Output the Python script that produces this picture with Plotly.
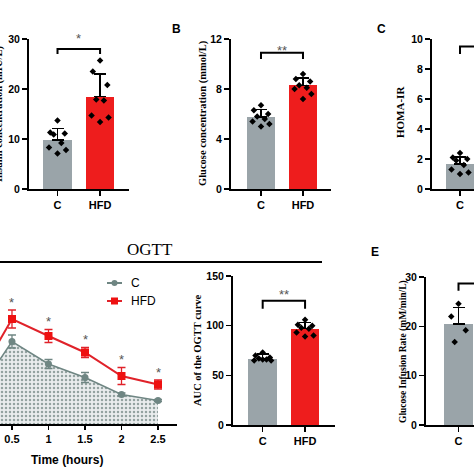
import plotly.graph_objects as go

W = H = 474
GRAY = "#9aa4a9"
RED = "#ee1d1d"
LINE_GRAY = "#6f8683"
STAR = "#555555"

groups = ["C", "HFD"]

# Panel A: insulin
a_mean = [9.8, 18.5]
a_sd = [2.3, 4.5]
a_pts = [[13.7, 11.3, 11.1, 10.9, 9.2, 8.3, 7.8, 7.1],
         [25.7, 23.5, 20.8, 17.9, 17.7, 14.7, 14.3, 13.4]]
# Panel B: glucose
b_mean = [5.75, 8.3]
b_sd = [0.6, 0.6]
b_pts = [[6.7, 6.3, 6.0, 5.8, 5.6, 5.4, 5.2, 5.0],
         [9.2, 8.8, 8.6, 8.3, 8.1, 8.0, 7.6, 7.2]]
# Panel C: HOMA-IR (only control visible)
c_mean = [1.68]
c_sd = [0.45]
c_pts = [[2.4, 2.1, 2.0, 1.9, 1.6, 1.3, 1.1, 1.0]]
# Panel D: OGTT
time = [0, 0.5, 1, 1.5, 2, 2.5]
ogtt_c = [5.6, 16.5, 12.0, 9.3, 5.9, 4.7]
ogtt_c_err = [0.4, 1.3, 0.9, 1.0, 0.3, 0.2]
ogtt_h = [8.4, 21.0, 17.6, 14.3, 9.6, 7.9]
ogtt_h_err = [0.6, 1.8, 1.3, 1.0, 1.7, 0.9]
# AUC
auc_mean = [66.5, 97]
auc_sd = [5, 6]
auc_pts = [[73, 70, 68, 67, 66, 65, 65, 66],
           [106, 101, 100, 98, 97, 93, 90, 89]]
# Panel E: GIR (only control visible)
e_mean = [20.5]
e_sd = [3.3]
e_pts = [[24.6, 22.0, 19.2, 16.8]]


def px(x):
    return x / W


def py(y):
    return 1 - y / H


fig = go.Figure()
annotations = []
shapes = []

SPREAD = [0.0, -0.17, 0.17, -0.09, 0.09, -0.2, 0.2, 0.0]


def bar_panel(ax, means, sds, pts, xr, xdom, ydom, yr, ytick, bracket, stars):
    xa = "x" + ("" if ax == 1 else str(ax))
    ya = "y" + ("" if ax == 1 else str(ax))
    n = len(means)
    fig.add_trace(go.Bar(
        x=list(range(n)), y=means, width=0.67,
        marker=dict(color=[GRAY, RED][:n], line=dict(width=0)),
        error_y=dict(type="data", symmetric=False, array=sds, arrayminus=[0] * n,
                     color="black", thickness=1.5, width=6),
        xaxis=xa, yaxis=ya, showlegend=False, hoverinfo="skip"))
    for i, p in enumerate(pts):
        xs = [i + SPREAD[k % len(SPREAD)] for k in range(len(p))]
        fig.add_trace(go.Scatter(
            x=xs, y=p, mode="markers",
            marker=dict(symbol="diamond", size=5, color="black"),
            xaxis=xa, yaxis=ya, showlegend=False, cliponaxis=False, hoverinfo="skip"))
    top, leg = bracket
    fig.add_trace(go.Scatter(
        x=[0, 0, 1, 1], y=[leg, top, top, leg], mode="lines",
        line=dict(color="black", width=2), xaxis=xa, yaxis=ya,
        showlegend=False, hoverinfo="skip"))
    if stars:
        # anchor at the bracket (inside range) and offset the text upward in pixels
        annotations.append(dict(
            x=0.5, y=top, xref=xa, yref=ya, text=stars[0], showarrow=True,
            arrowcolor="rgba(0,0,0,0)", arrowwidth=0.1, ax=0, ay=stars[1],
            font=dict(family="Liberation Sans", size=13, color=STAR)))
    lay = {}
    xk = "xaxis" + ("" if ax == 1 else str(ax))
    yk = "yaxis" + ("" if ax == 1 else str(ax))
    lay[xk] = dict(domain=[px(xdom[0]), px(xdom[1])], range=xr, anchor=ya,
                   tickvals=list(range(2)), ticktext=groups, showline=True,
                   linecolor="black", linewidth=2, ticks="outside", ticklen=5,
                   tickwidth=1.5, tickcolor="black", showgrid=False, zeroline=False,
                   automargin=False,
                   tickfont=dict(family="Liberation Sans", size=11, color="black",
                                 weight="bold"))
    lay[yk] = dict(domain=[py(ydom[1]), py(ydom[0])], range=yr, anchor=xa,
                   tickvals=ytick, showline=True, linecolor="black", linewidth=2,
                   ticks="outside", ticklen=5, tickwidth=1.5, tickcolor="black",
                   showgrid=False, zeroline=False, automargin=False,
                   tickfont=dict(family="Liberation Sans", size=10.5, color="black",
                                 weight="bold"))
    fig.update_layout(**lay)


bar_panel(1, a_mean, a_sd, a_pts, [-0.67, 1.68], (29, 129), (39, 189), [0, 30],
          [0, 10, 20, 30], (28.0, 27.0), ("*", -10.5))
bar_panel(2, b_mean, b_sd, b_pts, [-0.714, 1.667], (231, 331), (39, 189), [0, 12],
          [0, 4, 8, 12], (10.9, 10.4), ("**", -2.5))
bar_panel(3, c_mean, c_sd, c_pts, [-0.659, 0.329], (432, 474), (39, 189), [0, 10],
          [0, 2, 4, 6, 8, 10], (9.5, 9.0), None)
bar_panel(4, auc_mean, auc_sd, auc_pts, [-0.70, 1.706], (233, 335), (276, 425), [0, 150],
          [0, 50, 100, 150], (125, 117), ("**", -6))
bar_panel(5, e_mean, e_sd, e_pts, [-0.765, 0.365], (426, 474), (277, 425), [0, 30],
          [0, 10, 20, 30], (28.7, 27.2), None)

# OGTT line chart (axis 6)
fig.add_trace(go.Scatter(
    x=time, y=ogtt_c, mode="lines+markers", fill="tozeroy",
    fillcolor="rgba(0,0,0,0)",
    fillpattern=dict(shape=".", bgcolor="#eaedee", fgcolor="#94a3a1", size=4, solidity=0.3),
    line=dict(color=LINE_GRAY, width=1.5),
    marker=dict(symbol="circle", size=7, color=LINE_GRAY),
    error_y=dict(type="data", array=ogtt_c_err, color=LINE_GRAY, thickness=1.3, width=4),
    xaxis="x6", yaxis="y6", showlegend=False, hoverinfo="skip"))
fig.add_trace(go.Scatter(
    x=time, y=ogtt_h, mode="lines+markers",
    line=dict(color="#e0222a", width=2),
    marker=dict(symbol="square", size=8, color="#ee1111"),
    error_y=dict(type="data", array=ogtt_h_err, color="#e0222a", thickness=1.3, width=4),
    xaxis="x6", yaxis="y6", showlegend=False, hoverinfo="skip"))
for t, m, e in zip(time[1:], ogtt_h[1:], ogtt_h_err[1:]):
    annotations.append(dict(x=t, y=m + e + 1.6, xref="x6", yref="y6", text="*",
                            showarrow=False, xanchor="center", yanchor="middle",
                            font=dict(family="Liberation Sans", size=13, color=STAR)))
fig.update_layout(
    xaxis6=dict(domain=[0, px(177)], range=[0.336, 2.76], anchor="y6",
                tickvals=[0.5, 1, 1.5, 2, 2.5], ticktext=["0.5", "1", "1.5", "2", "2.5"],
                showline=True, linecolor="black", linewidth=1.5, ticks="outside",
                ticklen=4, tickwidth=1.5, tickcolor="black", showgrid=False,
                zeroline=False, automargin=False,
                tickfont=dict(family="Liberation Sans", size=11, color="black",
                              weight="bold")),
    yaxis6=dict(domain=[py(424), py(274)], range=[0, 30], anchor="x6",
                visible=False, showgrid=False, zeroline=False, automargin=False),
)


def note(text, x, y, size, family="Liberation Sans", xanchor="center", angle=0):
    annotations.append(dict(x=px(x), y=py(y), xref="paper", yref="paper", text=text,
                            xanchor=xanchor, yanchor="middle", textangle=angle,
                            showarrow=False,
                            font=dict(family=family, size=size, color="black")))


# legend for OGTT
shapes.append(dict(type="line", xref="paper", yref="paper", x0=px(107), x1=px(122),
                   y0=py(283), y1=py(283), line=dict(color=LINE_GRAY, width=2)))
shapes.append(dict(type="circle", xref="paper", yref="paper", x0=px(111.5), x1=px(117.5),
                   y0=py(286), y1=py(280), fillcolor=LINE_GRAY, line=dict(width=0)))
shapes.append(dict(type="line", xref="paper", yref="paper", x0=px(107), x1=px(122),
                   y0=py(301), y1=py(301), line=dict(color="#e0222a", width=2)))
shapes.append(dict(type="rect", xref="paper", yref="paper", x0=px(111), x1=px(118),
                   y0=py(304.5), y1=py(297.5), fillcolor="#ee1111", line=dict(width=0)))
note("C", 129, 283, 12, xanchor="left")
note("HFD", 129, 301, 12, xanchor="left")

# OGTT title and rule
note("OGTT", 150, 249, 17, family="Liberation Serif")
shapes.append(dict(type="line", xref="paper", yref="paper", x0=0, x1=px(322),
                   y0=py(262), y1=py(262), line=dict(color="black", width=2)))
note("<b>Time (hours)</b>", 67, 460, 12)

# panel letters
for lab, x, y in [("B", 176, 29), ("C", 381, 29), ("E", 375, 252)]:
    note("<b>" + lab + "</b>", x, y, 12)

# y-axis titles
for txt, x, y, sz in [("Insulin concentration (mIU/L)", -1, 114, 10.5),
                      ("Glucose concentration (mmol/L)", 203, 113, 10.5),
                      ("HOMA-IR", 400, 112, 11),
                      ("AUC of the OGTT curve", 197, 350, 10.5),
                      ("Glucose Infusion Rate (mM/min/L)", 403, 352, 9.5)]:
    note("<b>" + txt + "</b>", x, y, sz, family="Liberation Serif", angle=-90)

fig.update_layout(template="none", width=W, height=H,
                  margin=dict(l=0, r=0, t=0, b=0, autoexpand=False),
                  paper_bgcolor="white", plot_bgcolor="rgba(0,0,0,0)",
                  annotations=annotations, shapes=shapes, bargap=0,
                  hovermode=False)
fig.write_html("out.html", config={"displayModeBar": False, "staticPlot": True},
               post_script="document.body.style.margin='0';document.body.style.overflow='hidden';")
